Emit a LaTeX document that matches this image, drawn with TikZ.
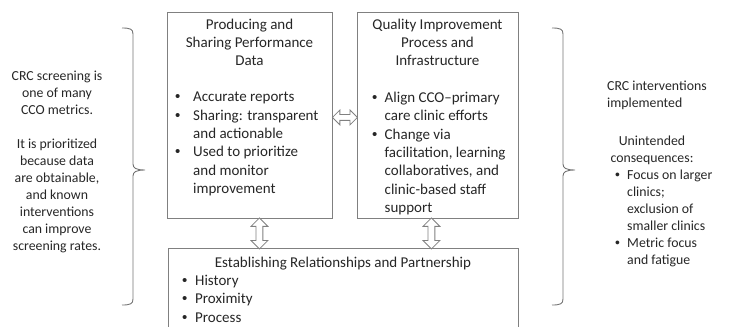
\documentclass[tikz,border=0pt]{standalone}
\usepackage{fontspec}
\setmainfont{Carlito}
\newfontfamily\dotfont{Liberation Sans}
\usetikzlibrary{shapes.arrows,calc}
% bullet with a fixed-width slot, and the matching indent for wrapped lines
\newcommand\bul[1]{\makebox[#1][l]{\dotfont\textbullet}}
\newcommand\ind[1]{\hspace*{#1}}
\begin{document}
\begin{tikzpicture}[x=1pt,y=-1pt,
  panel/.style={draw=black!50, line width=0.9pt, anchor=north west, inner sep=0pt},
  boxfont/.style={font=\fontsize{15}{18.3}\selectfont},
  sidefont/.style={font=\fontsize{13.8}{17}\selectfont},
  txt/.style={inner sep=0pt, text=black!85},
  link/.style={double arrow, draw=black!50, line width=0.8pt, fill=white,
    inner sep=3pt, double arrow head extend=5pt, double arrow head indent=0pt},
  bracket/.style={draw=black!55, line width=0.9pt}
]
\useasboundingbox (0,0) rectangle (732,327);

% the three panels
\node[panel, minimum width=165pt, minimum height=206pt] (data) at (167,12) {};
\node[panel, minimum width=161pt, minimum height=206pt] (qi) at (357,12) {};
\node[panel, minimum width=350pt, minimum height=100pt] (rel) at (168,248) {};

% panel texts
\node[txt, boxfont, align=center, anchor=north] (dataT) at (249.5,18.5)
  {Producing and\\Sharing Performance\\Data};
\node[txt, boxfont, align=left, anchor=north west] (dataL) at (175,92)
  {\bul{18pt}Accurate reports\\
   \bul{18pt}Sharing: transparent\\
   \ind{18pt}and actionable\\
   \bul{18pt}Used to prioritize\\
   \ind{18pt}and monitor\\
   \ind{18pt}improvement};

\node[txt, boxfont, align=center, anchor=north] (qiT) at (437.5,18.5)
  {Quality Improvement\\Process and\\Infrastructure};
\node[txt, boxfont, align=left, anchor=north west] (qiL) at (372,92)
  {\bul{12.5pt}Align CCO–primary\\
   \ind{12.5pt}care clinic efforts\\
   \bul{12.5pt}Change via\\
   \ind{12.5pt}facilitation, learning\\
   \ind{12.5pt}collaboratives, and\\
   \ind{12.5pt}clinic-based staff\\
   \ind{12.5pt}support};

\node[txt, boxfont, anchor=north] (relT) at (343,257)
  {Establishing Relationships and Partnership};
\node[txt, boxfont, align=left, anchor=north west] (relL) at (182,275)
  {\bul{13pt}History\\
   \bul{13pt}Proximity\\
   \bul{13pt}Process};

% hollow two-way arrows between the panels
\coordinate (hmid) at ($(data.east)!0.5!(qi.west)$);
\node[link, minimum height=25pt, inner sep=2.5pt, double arrow head extend=4.5pt]
  (a1) at ([yshift=-2pt]hmid) {};
\node[link, minimum height=31pt, rotate=90] (a2) at ($(data.south)!0.5!(data.south |- rel.north)+(9.5,0)$) {};
\node[link, minimum height=31pt, rotate=90] (a3) at ($(qi.south)!0.5!(qi.south |- rel.north)+(-6.5,0)$) {};

% side notes
\node[txt, sidefont, align=center, anchor=north] (left) at (57,71)
  {CRC screening is\\one of many\\CCO metrics.\\[17pt]
   It is prioritized\\because data\\are obtainable,\\and known\\interventions\\
   can improve\\screening rates.};
\node[txt, sidefont, align=left, anchor=north west] (out) at (607,81)
  {CRC interventions\\implemented};
\node[txt, sidefont, align=center, anchor=north] (unint) at (652,136)
  {Unintended\\consequences:};
\node[txt, sidefont, align=left, anchor=north west] (unintL) at (615,170)
  {\bul{12pt}Focus on larger\\
   \ind{12pt}clinics;\\
   \ind{12pt}exclusion of\\
   \ind{12pt}smaller clinics\\
   \bul{12pt}Metric focus\\
   \ind{12pt}and fatigue};

% curly brackets grouping the panels
\draw[bracket] (122,28) .. controls (130,28) and (133,29) .. (133,34)
  -- (133,164) .. controls (133,168) and (136,170) .. (145,170)
  .. controls (136,170) and (133,172) .. (133,176)
  -- (133,299) .. controls (133,304) and (130,305) .. (122,305);
\draw[bracket] (552,28) .. controls (560,28) and (563,29) .. (563,34)
  -- (563,164) .. controls (563,168) and (566,170) .. (575,170)
  .. controls (566,170) and (563,172) .. (563,176)
  -- (563,299) .. controls (563,304) and (560,305) .. (552,305);
\end{tikzpicture}
\end{document}
